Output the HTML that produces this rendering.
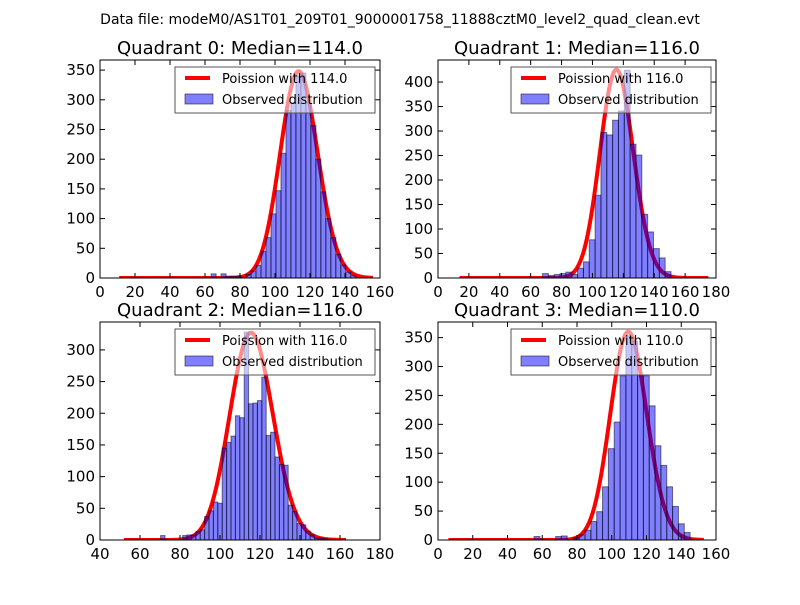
<!DOCTYPE html>
<html><head><meta charset="utf-8"><style>
body{margin:0;background:#fff}
svg text{font-family:"DejaVu Sans","Liberation Sans",sans-serif}
</style></head><body>
<svg id="fig" width="800" height="600" xmlns="http://www.w3.org/2000/svg">
<rect width="800" height="600" fill="#fff"/>
<text x="400" y="24" font-size="14" text-anchor="middle">Data file: modeM0/AS1T01_209T01_9000001758_11888cztM0_level2_quad_clean.evt</text>
</svg>
<script>
// Quadrant 0
const q0Counts = [7,0,7,3,3,3,0,6,12,21,45,68,108,147,210,282,295,340,345,295,257,200,145,100,68,40,22,10,4];
// Quadrant 1
const q1Counts = [9,5,7,9,12,7,20,33,78,169,297,292,322,341,424,273,251,130,94,60,41,13];
// Quadrant 2
const q2Counts = [7,0,0,0,0,7,8,8,13,16,37,46,60,58,145,154,164,196,193,328,215,216,220,257,165,170,131,119,118,55,45,26,24,14,8,3,3,2,1];
// Quadrant 3
const q3Counts = [4,9,17,32,49,92,158,204,284,353,344,284,284,232,163,129,92,58,28,13];
const q3Outliers = [6,6,7];
const q3OutlierBins = [55.3,67.7,71];
const medians = [114,116,116,110];
const curvePeaks = [348,425,327,360];
const curveRanges = [[11,156],[14,175],[52,163],[6,153]];
const binStarts = [63.5,67.7,70.3,77.9];
const binWidths = [2.85,3.78,2.2,3.36];
const xLims = [[0,160],[0,180],[40,180],[0,160]];
const yLims = [[0,367],[0,445],[0,344],[0,377]];
const xTicks = [[0,20,40,60,80,100,120,140,160],[0,20,40,60,80,100,120,140,160,180],[40,60,80,100,120,140,160,180],[0,20,40,60,80,100,120,140,160]];
const yTicks = [[0,50,100,150,200,250,300,350],[0,50,100,150,200,250,300,350,400],[0,50,100,150,200,250,300],[0,50,100,150,200,250,300,350]];

const NS="http://www.w3.org/2000/svg";
const fig=document.getElementById('fig');
function mk(tag,attrs,parent){const e=document.createElementNS(NS,tag);for(const k in attrs)e.setAttribute(k,attrs[k]);(parent||fig).appendChild(e);return e;}
function lnf(k){let s=0;for(let i=2;i<=k;i++)s+=Math.log(i);return s;}
function logp(k,m){return k*Math.log(m)-m-lnf(k);}

const boxes=[[100,60,380,278],[438,60,716,278],[100,322,380,540],[438,322,716,540]];
const allCounts=[q0Counts,q1Counts,q2Counts,q3Counts];

for(let q=0;q<4;q++){
  const [L,T,R,B]=boxes[q];
  const g=mk('g',{});
  
  
  const xs=v=>L+(v-xLims[q][0])/(xLims[q][1]-xLims[q][0])*(R-L);
  const ys=v=>B-(v-yLims[q][0])/(yLims[q][1]-yLims[q][0])*(B-T);
  const clipId='clip'+q;
  const cp=mk('clipPath',{id:clipId},g);mk('rect',{x:L,y:T,width:R-L,height:B-T},cp);
  const plot=mk('g',{'clip-path':'url(#'+clipId+')'},g);
  const m=medians[q],lm=logp(Math.floor(m),m);
  let d='';
  for(let k=curveRanges[q][0];k<=curveRanges[q][1];k++){
    const v=curvePeaks[q]*Math.exp(logp(k,m)-lm);
    d+=(d?'L':'M')+xs(k).toFixed(2)+','+ys(v).toFixed(2);
  }
  const line=mk('path',{d:d,fill:'none',stroke:'#ff0000','stroke-width':4,'stroke-linejoin':'round'},plot);
  
  
  const c=allCounts[q];
  for(let i=0;i<c.length;i++){
    if(c[i]<=0)continue;
    const x0=binStarts[q]+i*binWidths[q];
    const r=mk('rect',{x:xs(x0),y:ys(c[i]),width:xs(x0+binWidths[q])-xs(x0),height:ys(0)-ys(c[i]),fill:'rgba(0,0,255,0.5)',stroke:'rgba(0,0,0,0.5)','stroke-width':1},plot);
    
    
  }
  if(q===3){
    for(let i=0;i<q3Outliers.length;i++){
      const ox=q3OutlierBins[i];
      const r=mk('rect',{x:xs(ox),y:ys(q3Outliers[i]),width:xs(ox+binWidths[q])-xs(ox),height:ys(0)-ys(q3Outliers[i]),fill:'rgba(0,0,255,0.5)',stroke:'rgba(0,0,0,0.5)','stroke-width':1},plot);
      
      
    }
  }
  mk('rect',{x:L,y:T,width:R-L,height:B-T,fill:'none',stroke:'#000','stroke-width':1},g);
  xTicks[q].forEach(t=>{const x=xs(t);
    mk('line',{x1:x,x2:x,y1:B,y2:B-5,stroke:'#000'},g);mk('line',{x1:x,x2:x,y1:T,y2:T+5,stroke:'#000'},g);
    const tx=mk('text',{x:x,y:B+19,'font-size':15,'text-anchor':'middle'},g);tx.textContent=t;
    
    });
  yTicks[q].forEach(t=>{const y=ys(t);
    mk('line',{x1:L,x2:L+5,y1:y,y2:y,stroke:'#000'},g);mk('line',{x1:R,x2:R-5,y1:y,y2:y,stroke:'#000'},g);
    const tx=mk('text',{x:L-5,y:y+5,'font-size':15,'text-anchor':'end'},g);tx.textContent=t;
    
    });
  const tt=mk('text',{x:(L+R)/2,y:T-6,'font-size':18,'text-anchor':'middle'},g);
  tt.textContent='Quadrant '+q+': Median='+m.toFixed(1);
  
  
  const lg=mk('g',{},g);
  
  
  const lx=R-205,ly=T+7;
  mk('rect',{x:lx,y:ly,width:200,height:46,fill:'rgba(255,255,255,0.55)',stroke:'#555','stroke-width':1},lg);
  mk('line',{x1:lx+10,x2:lx+35,y1:ly+11,y2:ly+11,stroke:'#ff0000','stroke-width':4},lg);
  mk('rect',{x:lx+10,y:ly+27,width:28,height:10,fill:'rgba(0,0,255,0.5)',stroke:'rgba(0,0,0,0.5)'},lg);
  const t1=mk('text',{x:lx+47,y:ly+16,'font-size':13},lg);t1.textContent='Poission with '+m.toFixed(1);
  
  
  const t2=mk('text',{x:lx+47,y:ly+37,'font-size':13},lg);t2.textContent='Observed distribution';
  
  
}
</script>
</body></html>
